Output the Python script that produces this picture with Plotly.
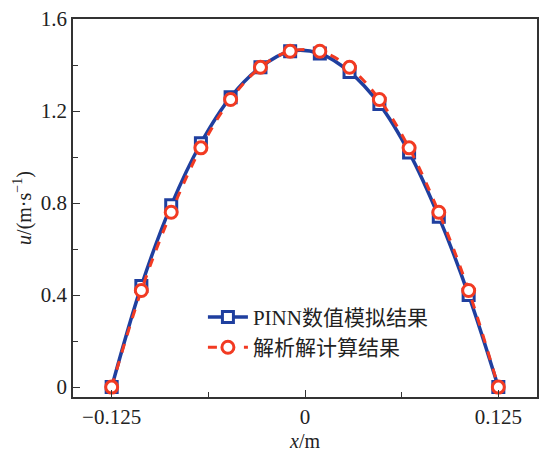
import numpy as np
import plotly.graph_objects as go

x_vals = [-0.125, -0.1058, -0.0865, -0.0673, -0.0481, -0.0288, -0.0096,
          0.0096, 0.0288, 0.0481, 0.0673, 0.0865, 0.1058, 0.125]
u_pinn = [0.0, 0.44, 0.79, 1.06, 1.26, 1.39, 1.46, 1.45, 1.37, 1.23, 1.02, 0.74, 0.40, 0.0]
u_analytic = [0.0, 0.42, 0.76, 1.04, 1.25, 1.39, 1.46, 1.46, 1.39, 1.25, 1.04, 0.76, 0.42, 0.0]

x_ticks = [-0.125, 0, 0.125]
x_ticklabels = ["\u22120.125", "0", "0.125"]
y_ticks = [0, 0.4, 0.8, 1.2, 1.6]
y_ticklabels = ["0", "0.4", "0.8", "1.2", "1.6"]

blue = "#1f3f9f"
red = "#f23a22"
font_serif = "Liberation Serif, Noto Sans CJK SC, serif"

fig = go.Figure()
fig.add_trace(go.Scatter(
    x=x_vals, y=u_pinn, mode="lines+markers", name="PINN数值模拟结果",
    line=dict(color=blue, width=3.5, shape="spline"),
    marker=dict(symbol="square", size=11, color="white", line=dict(color=blue, width=3)),
))
fig.add_trace(go.Scatter(
    x=x_vals, y=u_analytic, mode="lines+markers", name="解析解计算结果",
    line=dict(color=red, width=3, dash="dash", shape="spline"),
    marker=dict(symbol="circle", size=12, color="white", line=dict(color=red, width=3)),
))

fig.update_layout(
    width=541, height=454,
    margin=dict(l=73, r=2, t=19, b=57),
    paper_bgcolor="white", plot_bgcolor="white",
    font=dict(family=font_serif, size=21, color="#222"),
    showlegend=True,
    legend=dict(x=0.28, y=0.265, xanchor="left", yanchor="top",
                bgcolor="rgba(0,0,0,0)", font=dict(size=21, family=font_serif),
                tracegroupgap=0, itemwidth=40),
)
fig.update_xaxes(
    range=[-0.15, 0.15], tickvals=x_ticks, ticktext=x_ticklabels,
    ticks="inside", ticklen=7, tickwidth=1.2, tickcolor="#333",
    minor=dict(tickvals=[-0.0625, 0.0625], ticks="inside", ticklen=5, tickcolor="#333"),
    showline=True, linecolor="#333", linewidth=1.5, mirror=True,
    showgrid=False, zeroline=False, tickfont=dict(size=21),
    title=dict(text="<i>x</i>/m", standoff=6, font=dict(size=20)),
)
fig.update_yaxes(
    range=[-0.043, 1.6], tickvals=y_ticks, ticktext=y_ticklabels,
    ticks="inside", ticklen=7, tickwidth=1.2, tickcolor="#333",
    minor=dict(tickvals=[0.2, 0.6, 1.0, 1.4], ticks="inside", ticklen=5, tickcolor="#333"),
    showline=True, linecolor="#333", linewidth=1.5, mirror=True,
    showgrid=False, zeroline=False, tickfont=dict(size=21),
    title=dict(text="<i>u</i>/(m·s<sup>\u22121</sup>)", standoff=4, font=dict(size=20)),
)

fig.write_html("out.html")
